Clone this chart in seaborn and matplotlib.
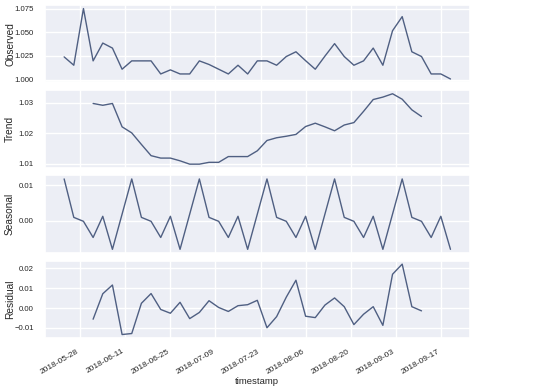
import numpy as np
import pandas as pd
import seaborn as sns
import matplotlib.pyplot as plt
import matplotlib.dates as mdates

# readings every 3 days, 2018-05-23 .. 2018-09-20
timestamp = pd.date_range("2018-05-23", periods=41, freq="3D")

observed = [1.024, 1.0152, 1.075, 1.0198, 1.0386, 1.0333, 1.011, 1.0198, 1.0198, 1.0198,
            1.006, 1.0103, 1.006, 1.006, 1.0198, 1.016, 1.011, 1.006, 1.0152, 1.006,
            1.0198, 1.0198, 1.0152, 1.0244, 1.0294, 1.020, 1.011, 1.0248, 1.038, 1.0244,
            1.0152, 1.0198, 1.0333, 1.0152, 1.0516, 1.0665, 1.0294, 1.0244, 1.006, 1.006,
            1.0007]

trend = [np.nan, np.nan, np.nan,
         1.0298, 1.0292, 1.0298, 1.0221, 1.0201, 1.0163, 1.0126, 1.0118, 1.0118, 1.0109,
         1.0098, 1.0098, 1.0104, 1.0104, 1.0123, 1.0123, 1.0123, 1.0142, 1.0176, 1.0185,
         1.0190, 1.0196, 1.0222, 1.0233, 1.0221, 1.0208, 1.0227, 1.0235, 1.0272, 1.0311,
         1.0319, 1.0330, 1.0312, 1.0277, 1.0255,
         np.nan, np.nan, np.nan]

season_cycle = [0.0117, 0.0010, -0.0001, -0.0046, 0.0013, -0.0079, 0.0019]
seasonal = (season_cycle * 6)[:41]

resid = [np.nan, np.nan, np.nan,
         -0.0056, 0.0072, 0.0116, -0.0133, -0.0128, 0.0024, 0.0073, -0.0007, -0.0026, 0.0029,
         -0.0053, -0.0022, 0.0037, 0.0003, -0.0017, 0.0012, 0.0017, 0.0039, -0.0099, -0.0043,
         0.0055, 0.0140, -0.0041, -0.0048, 0.0015, 0.0051, 0.0007, -0.0083, -0.0031, 0.0007,
         -0.0087, 0.0170, 0.0221, 0.0007, -0.0014,
         np.nan, np.nan, np.nan]

df = pd.DataFrame({"timestamp": timestamp, "Observed": observed, "Trend": trend,
                   "Seasonal": seasonal, "Residual": resid})

yticks = {"Observed": [1.000, 1.025, 1.050, 1.075],
          "Trend": [1.01, 1.02, 1.03],
          "Seasonal": [0.00, 0.01],
          "Residual": [-0.01, 0.00, 0.01, 0.02]}

sns.set_theme(style="darkgrid", rc={"axes.facecolor": "#eceef5"})
plt.rcParams["font.family"] = ["Liberation Sans", "DejaVu Sans"]

fig, axes = plt.subplots(4, 1, figsize=(5.4, 3.89), dpi=100, sharex=True)
fig.subplots_adjust(left=0.083, right=0.87, top=0.987, bottom=0.131, hspace=0.1)

for ax, col in zip(axes, ["Observed", "Trend", "Seasonal", "Residual"]):
    sns.lineplot(data=df, x="timestamp", y=col, ax=ax, color="#4f5f82", linewidth=1.0)
    ax.set_ylabel(col, fontsize=7.3)
    ax.yaxis.set_label_coords(-0.07, 0.5)
    ax.set_yticks(yticks[col])
    ax.tick_params(axis="y", labelsize=5.6, pad=2)
    ax.set_xlabel("")

ax = axes[-1]
ax.set_xticks(pd.date_range("2018-05-28", "2018-09-17", freq="14D"))
ax.xaxis.set_major_formatter(mdates.DateFormatter("%Y-%m-%d"))
ax.tick_params(axis="x", labelsize=6, pad=1)
plt.setp(ax.get_xticklabels(), rotation=30, ha="right")
ax.set_xlabel("timestamp", fontsize=6.8, labelpad=1)

plt.savefig("out.png")
